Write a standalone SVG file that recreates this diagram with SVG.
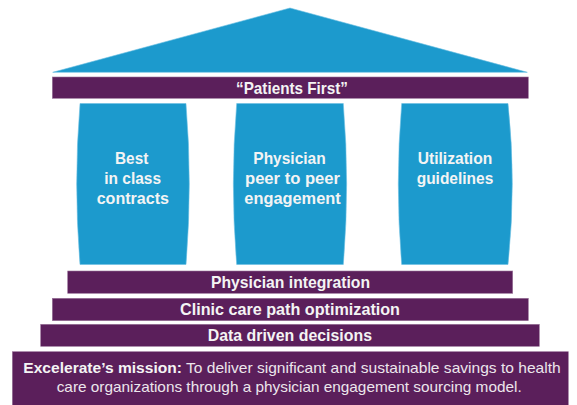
<svg xmlns="http://www.w3.org/2000/svg" width="577" height="405" viewBox="0 0 577 405">
<style>
.blue{fill:#1c9acd;stroke:#6cbfe3;stroke-width:0.6}
.purple{fill:#5b1f5b;stroke:#9a739a;stroke-width:0.6}
.t{font-family:"Liberation Sans Narrow","Liberation Sans",Arial,sans-serif;font-weight:bold;fill:#f4f4f4;font-size:17px}
.m{font-family:"Liberation Sans Narrow","Liberation Sans",Arial,sans-serif;fill:#ece6ec;font-size:14.5px}
.b{font-weight:bold;fill:#f4f4f4}
</style>
<rect width="577" height="405" fill="#ffffff"/>
<g id="roof">
<polygon class="blue" points="52.7,72.3 290,8 527.3,72.3"/>
</g>
<g id="patients-first">
<rect class="purple" x="52.3" y="77" width="476" height="21.3"/>
<text class="t" x="236" y="94" font-size="18" textLength="112" lengthAdjust="spacingAndGlyphs">“Patients First”</text>
</g>
<g id="pillar-contracts">
<path class="blue" d="M80,103.5 L186,103.5 Q192.6,184 186,264.5 L80,264.5 Q73.4,184 80,103.5 Z"/>
<text class="t" x="115" y="164" textLength="33.3" lengthAdjust="spacingAndGlyphs">Best</text>
<text class="t" x="104.3" y="184" textLength="56.7" lengthAdjust="spacingAndGlyphs">in class</text>
<text class="t" x="96.7" y="203.5" textLength="72.3" lengthAdjust="spacingAndGlyphs">contracts</text>
</g>
<g id="pillar-peer">
<path class="blue" d="M236.7,103.5 L343.3,103.5 Q350,184 343.3,264.5 L236.7,264.5 Q230,184 236.7,103.5 Z"/>
<text class="t" x="253.3" y="164" textLength="72.4" lengthAdjust="spacingAndGlyphs">Physician</text>
<text class="t" x="245" y="184" textLength="95" lengthAdjust="spacingAndGlyphs">peer to peer</text>
<text class="t" x="244.3" y="203.5" textLength="96.4" lengthAdjust="spacingAndGlyphs">engagement</text>
</g>
<g id="pillar-utilization">
<path class="blue" d="M401.7,103.5 L508,103.5 Q516.6,184 508,264.5 L401.7,264.5 Q394.9,184 401.7,103.5 Z"/>
<text class="t" x="417.7" y="164" textLength="74.6" lengthAdjust="spacingAndGlyphs">Utilization</text>
<text class="t" x="416.7" y="184" textLength="76.6" lengthAdjust="spacingAndGlyphs">guidelines</text>
</g>
<g id="physician-integration">
<rect class="purple" x="67.7" y="271" width="445" height="22.3"/>
<text class="t" x="211" y="287.5" textLength="159" lengthAdjust="spacingAndGlyphs">Physician integration</text>
</g>
<g id="clinic-care-path">
<rect class="purple" x="52.3" y="298.3" width="476" height="22.4"/>
<text class="t" x="180" y="314.8" textLength="220" lengthAdjust="spacingAndGlyphs">Clinic care path optimization</text>
</g>
<g id="data-driven">
<rect class="purple" x="40.7" y="324.3" width="498.6" height="22"/>
<text class="t" x="207.7" y="341" textLength="164.3" lengthAdjust="spacingAndGlyphs">Data driven decisions</text>
</g>
<g id="mission">
<rect class="purple" x="12.3" y="351.7" width="556" height="54"/>
<text class="m" x="23.3" y="372.5" textLength="537.4" lengthAdjust="spacingAndGlyphs"><tspan class="b">Excelerate’s mission:</tspan> To deliver significant and sustainable savings to health</text>
<text class="m" x="56.7" y="391.5" textLength="465" lengthAdjust="spacingAndGlyphs">care organizations through a physician engagement sourcing model.</text>
</g>
<g id="connectors"/>
</svg>
